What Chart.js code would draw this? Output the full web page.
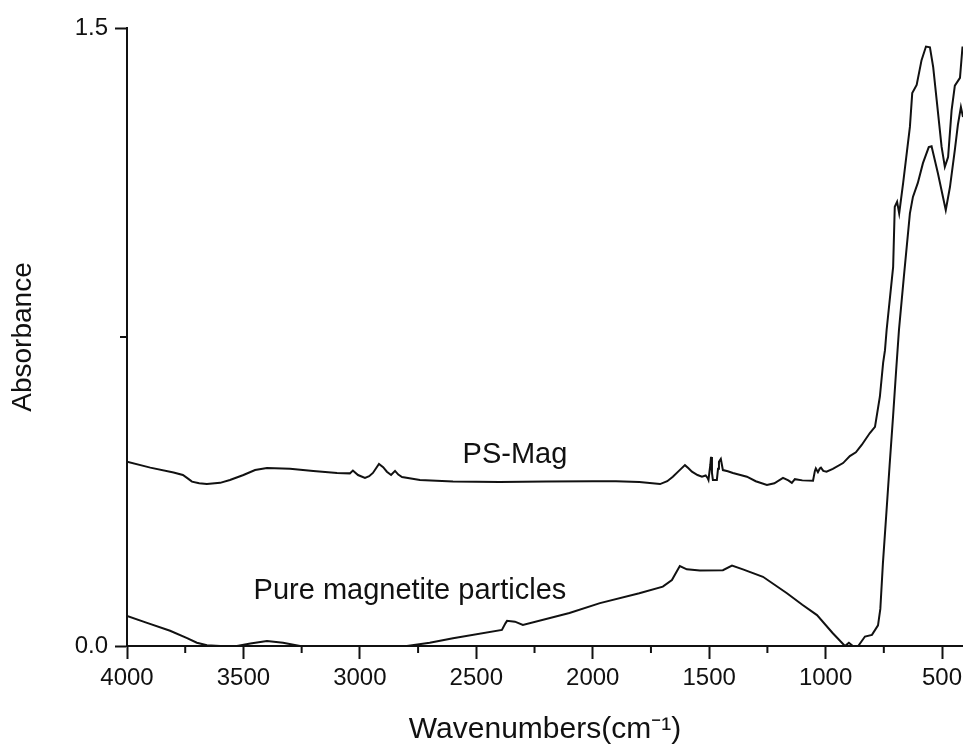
<!DOCTYPE html>
<html><head><meta charset="utf-8">
<script src="https://cdn.jsdelivr.net/npm/chart.js@4.4.1/dist/chart.umd.min.js"></script>
<style>html,body{margin:0;padding:0;background:#fff}canvas{display:block}</style>
</head><body>
<canvas id="c" width="963" height="746"></canvas>
<script>
const X_MAJOR_TICKS = [500, 1000, 1500, 2000, 2500, 3000, 3500, 4000];
const X_MINOR_TICKS = [750, 1250, 1750, 2250, 2750, 3250, 3750];
const Y_MAJOR_TICKS = [0, 1.5];
const Y_MINOR_TICKS = [0.75];

const PS_MAG_WN = [4000,3900,3800,3760,3735,3721,3690,3657,3600,3558,3500,3450,3399,3300,3200,3098,3043,3030,3008,2978,2960,2944,2918,2900,2884,2866,2849,2835,2819,2742,2600,2400,2200,2000,1900,1800,1711,1680,1656,1630,1604,1590,1574,1550,1531,1515,1507,1503,1495,1492,1488,1484,1467,1462,1458,1450,1441,1420,1398,1338,1300,1252,1220,1183,1160,1145,1132,1100,1054,1046,1042,1033,1025,1020,1010,996,969,925,896,870,845,810,788,767,753,745,738,710,703,693,684,667,638,628,609,588,569,552,538,523,502,488,474,459,445,423,412];
const PS_MAG_ABS = [0.447,0.433,0.421,0.415,0.405,0.399,0.395,0.393,0.396,0.403,0.415,0.427,0.432,0.430,0.425,0.420,0.419,0.426,0.415,0.408,0.412,0.420,0.442,0.434,0.423,0.415,0.425,0.416,0.410,0.403,0.399,0.398,0.399,0.400,0.400,0.398,0.393,0.400,0.411,0.425,0.439,0.432,0.423,0.415,0.411,0.414,0.408,0.403,0.440,0.459,0.420,0.403,0.403,0.430,0.447,0.454,0.427,0.424,0.420,0.411,0.400,0.391,0.395,0.408,0.402,0.396,0.405,0.402,0.401,0.425,0.431,0.422,0.431,0.433,0.425,0.423,0.430,0.444,0.461,0.470,0.488,0.517,0.532,0.605,0.687,0.718,0.767,0.920,1.066,1.078,1.050,1.124,1.260,1.342,1.362,1.422,1.455,1.453,1.405,1.325,1.212,1.163,1.187,1.300,1.360,1.379,1.455];

const PURE_WN = [4000,3914,3815,3742,3700,3657,3600,3528,3470,3399,3330,3257,3000,2798,2700,2600,2390,2375,2368,2334,2300,2100,1969,1800,1699,1660,1640,1626,1596,1540,1441,1402,1355,1269,1166,1100,1037,969,917,900,883,860,831,801,775,765,754,740,725,710,697,685,664,638,625,604,582,557,545,518,496,484,466,445,432,419,410];
const PURE_ABS = [0.073,0.056,0.037,0.019,0.008,0.002,0,0,0.006,0.012,0.008,0,0,0,0.008,0.019,0.039,0.055,0.061,0.059,0.051,0.080,0.104,0.128,0.144,0.160,0.180,0.194,0.186,0.183,0.184,0.195,0.186,0.168,0.128,0.100,0.075,0.031,0,0.008,0,0,0.023,0.027,0.050,0.090,0.200,0.315,0.440,0.560,0.670,0.767,0.896,1.050,1.090,1.124,1.172,1.211,1.213,1.148,1.090,1.058,1.114,1.204,1.265,1.308,1.284];

const LABEL_TEXTS = ['PS-Mag', 'Pure magnetite particles'];
const LABEL_WN = [2334, 2785];
const LABEL_ABS = [0.4636, 0.1335];

const FONT = "'Liberation Sans', Arial, Helvetica, sans-serif";
const INK = '#111';

const toPts = (xs, ys) => xs.map((v, i) => ({x: v, y: ys[i]}));

const extras = {
  id: 'extras',
  afterDraw(chart) {
    const {ctx, scales: {x, y}} = chart;
    ctx.save();
    ctx.strokeStyle = INK; ctx.lineWidth = 2;
    X_MINOR_TICKS.forEach(v => {
      const px = x.getPixelForValue(v);
      ctx.beginPath(); ctx.moveTo(px, x.top); ctx.lineTo(px, x.top + 7); ctx.stroke();
    });
    Y_MINOR_TICKS.forEach(v => {
      const py = y.getPixelForValue(v);
      ctx.beginPath(); ctx.moveTo(y.right, py); ctx.lineTo(y.right - 7, py); ctx.stroke();
    });
    ctx.fillStyle = INK;
    ctx.font = '29px ' + FONT;
    ctx.textAlign = 'center'; ctx.textBaseline = 'middle';
    LABEL_TEXTS.forEach((t, i) => ctx.fillText(t, x.getPixelForValue(LABEL_WN[i]), y.getPixelForValue(LABEL_ABS[i])));
    ctx.restore();
  }
};

new Chart(document.getElementById('c'), {
  type: 'line',
  data: {
    datasets: [
      {label: 'PS-Mag', data: toPts(PS_MAG_WN, PS_MAG_ABS), borderColor: INK, borderWidth: 2, pointRadius: 0, tension: 0, fill: false},
      {label: 'Pure magnetite particles', data: toPts(PURE_WN, PURE_ABS), borderColor: INK, borderWidth: 2, pointRadius: 0, tension: 0, fill: false}
    ]
  },
  options: {
    responsive: false,
    devicePixelRatio: 1,
    animation: false,
    parsing: false,
    layout: {padding: {top: 28, right: 0, bottom: 0, left: 0}},
    plugins: {legend: {display: false}, tooltip: {enabled: false}},
    scales: {
      x: {
        type: 'linear', min: 410, max: 4000, reverse: true,
        afterBuildTicks: s => { s.ticks = X_MAJOR_TICKS.map(v => ({value: v})); },
        afterFit: s => { s.height = 100; },
        ticks: {font: {size: 24, family: FONT}, color: INK, padding: 5, maxRotation: 0, autoSkip: false, callback: v => String(v)},
        grid: {drawOnChartArea: false, drawTicks: true, tickLength: 13, tickWidth: 2, tickColor: INK},
        border: {display: true, color: INK, width: 2},
        title: {display: true, text: 'Wavenumbers(cm\u207B\u00B9)', color: INK, font: {size: 30, family: FONT, lineHeight: 1}, padding: {top: 0, bottom: 1}}
      },
      y: {
        type: 'linear', min: 0, max: 1.5,
        afterBuildTicks: s => { s.ticks = Y_MAJOR_TICKS.map(v => ({value: v})); },
        afterFit: s => { s.width = 127; },
        ticks: {font: {size: 24, family: FONT}, color: INK, padding: 7, callback: v => Number(v).toFixed(1)},
        grid: {drawOnChartArea: false, drawTicks: true, tickLength: 12, tickWidth: 2, tickColor: INK},
        border: {display: true, color: INK, width: 2},
        title: {display: true, text: 'Absorbance', color: INK, font: {size: 28, family: FONT, lineHeight: 1}, padding: {top: 9, bottom: 0}}
      }
    }
  },
  plugins: [extras]
});
</script>
</body></html>
